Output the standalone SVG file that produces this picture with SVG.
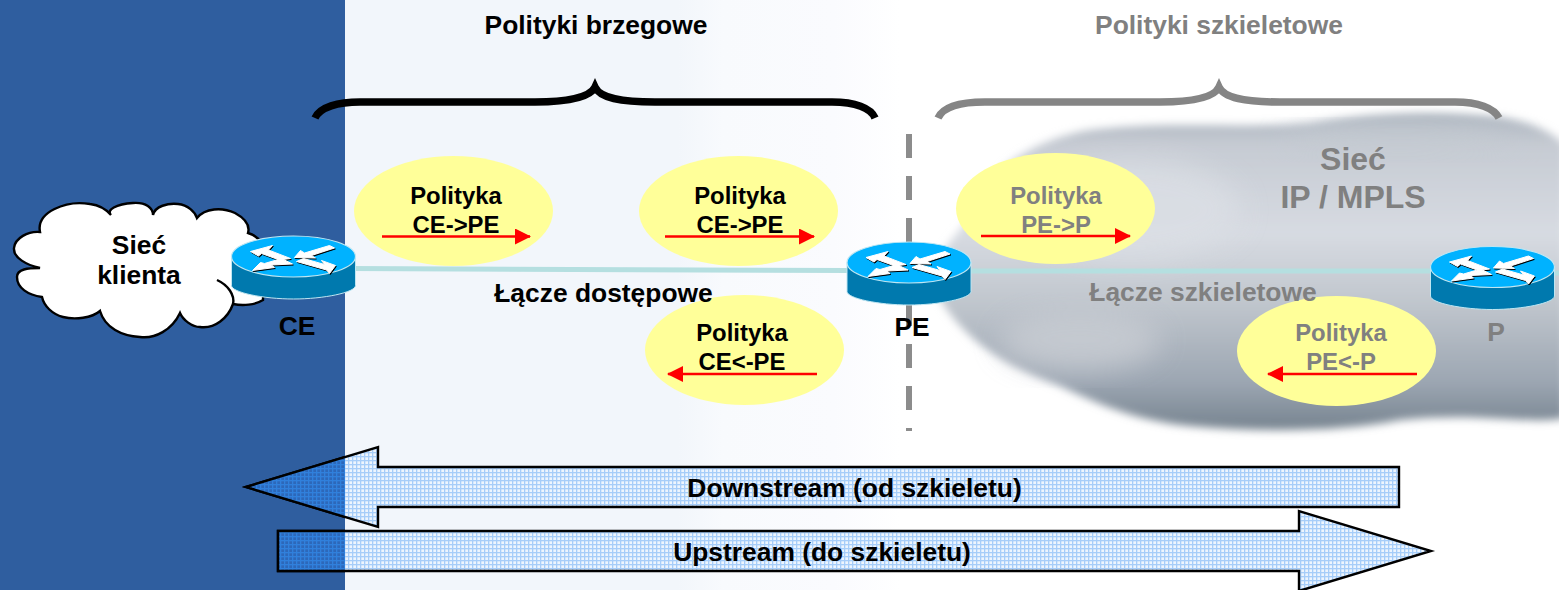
<svg xmlns="http://www.w3.org/2000/svg" width="1559" height="590" viewBox="0 0 1559 590">
<style>
text{font-family:"Liberation Sans",Arial,sans-serif;font-weight:bold;text-anchor:middle;fill:#000}
.g{fill:#808080}
.p{font-size:23.9px}
.l{font-size:26.4px}
.pol{fill:#ffff99}
.red{stroke:#ff0000;stroke-width:2.5;fill:none}
.block{stroke:#000;stroke-width:2.4;fill:url(#dots)}
.blockd{stroke:#000;stroke-width:2.4;fill:url(#dotsd)}
.brace{fill:none;stroke-width:7.5}
.link{stroke:#b5dfe0;stroke-width:5;fill:none}
</style>
<defs>
<linearGradient id="bandg" x1="345" x2="900" y1="0" y2="0" gradientUnits="userSpaceOnUse">
<stop offset="0" stop-color="#f2f6fb"/>
<stop offset=".6" stop-color="#f2f6fb"/>
<stop offset=".68" stop-color="#f8fafd"/>
<stop offset=".88" stop-color="#fafbfe"/>
<stop offset="1" stop-color="#ffffff"/>
</linearGradient>
<pattern id="dots" width="4" height="4" patternUnits="userSpaceOnUse">
<rect width="4" height="4" fill="#edf5fe"/>
<rect width="1.3" height="4" fill="#a6cdf9"/>
<rect width="4" height="1.3" fill="#a6cdf9"/>
</pattern>
<pattern id="dotsd" width="4" height="4" patternUnits="userSpaceOnUse">
<rect width="4" height="4" fill="#2c68ba"/>
<rect width="1.3" height="4" fill="#3080dc"/>
<rect width="4" height="1.3" fill="#3080dc"/>
</pattern>
<clipPath id="leftband"><rect x="0" y="430" width="345" height="160"/></clipPath>
<linearGradient id="cg" x1="0" y1="0" x2="0" y2="1">
<stop offset="0" stop-color="#a9b2bc"/>
<stop offset=".1" stop-color="#c6cbd3"/>
<stop offset=".38" stop-color="#d7dbe2"/>
<stop offset=".6" stop-color="#c0c6cd"/>
<stop offset=".85" stop-color="#9ca6b2"/>
<stop offset="1" stop-color="#76838f"/>
</linearGradient>
<filter id="bl" x="-5%" y="-10%" width="110%" height="120%"><feGaussianBlur stdDeviation="4"/></filter>
<filter id="bl2" x="-20%" y="-30%" width="140%" height="160%"><feGaussianBlur stdDeviation="14"/></filter>
<marker id="ah" markerUnits="userSpaceOnUse" markerWidth="16" markerHeight="16" refX="15" refY="8" orient="auto-start-reverse">
<path d="M0,0 L16,8 L0,16 Z" fill="#ff0000"/>
</marker>
<g id="ra" stroke-width="1" stroke-linejoin="round">
<path d="M-43,-5 -21,-11 -25,-6.500 -3,2 -14,3.500 -32,-3 -35,-0.500Z"/>
<path d="M1,1 7,-6 11,-3.500 36,-11 41,-8.500 18,-1 22,1.500Z"/>
<path d="M-41,14 -33,6 -29,7 -12,2 -1,7.500 -22,8.500 -19,11Z"/>
<path d="M3,5 10,2 31,8 28,4 42,9 36,17 33,13.500Z"/>
</g>
<g id="rt">
<path d="M-62,0 V29 C-62,36 -30,42.500 0,42.500 C30,42.500 62,36 62,29 V0 Z" fill="#0079ae" stroke="#bfe6f2" stroke-width="1"/>
<ellipse rx="62" ry="20.500" fill="#00b2ff" stroke="#bfe6f2" stroke-width="1.200"/>
<use href="#ra" x=".8" y="1" fill="#000" stroke="#000"/>
<use href="#ra" fill="#fff" stroke="#fff"/>
</g>
</defs>

<g id="background">
<rect width="1559" height="590" fill="#fff"/>
<rect x="345" width="555" height="590" fill="url(#bandg)"/>
<rect width="345" height="590" fill="#2f5e9f"/>
</g>

<g id="backbone-cloud">
<path filter="url(#bl)" fill="url(#cg)" d="M932,285 C935,245 965,235 985,190 C1005,155 1060,130 1110,128 C1170,122 1250,128 1310,123 C1370,112 1440,110 1500,117 C1530,122 1550,130 1565,145 V418 C1530,425 1480,412 1400,420 C1340,432 1260,432 1190,426 C1130,420 1090,400 1060,386 C1020,370 965,350 932,285Z"/>
<ellipse cx="1130" cy="210" rx="110" ry="50" fill="#dbdfe5" opacity=".8" filter="url(#bl2)"/>
<ellipse cx="1080" cy="340" rx="80" ry="30" fill="#c8ccd3" opacity=".85" filter="url(#bl2)"/>
<ellipse cx="1400" cy="140" rx="120" ry="14" fill="#c5cbd2" opacity=".8" filter="url(#bl2)"/>
</g>

<g id="connectors">
<path class="link" d="M350,268.500 L850,270.500"/>
<path class="link" d="M968,271 H1433"/>
<path class="link" d="M1552,273 H1559"/>
<path d="M909,134 V431" fill="none" stroke="#8c8c8c" stroke-width="6" stroke-dasharray="24 18"/>
<path class="brace" stroke="#000" d="M315,118 C320,107 338,102 360,102 H535 C565,102 590,98 595,87 C600,98 620,102 655,102 H832 C855,102 871,108 875,118"/>
<path class="brace" stroke="#858585" d="M938,118 C943,107 960,102 985,102 H1160 C1190,102 1214,98 1219,87 C1224,98 1245,102 1280,102 H1455 C1478,102 1494,108 1499,118"/>
</g>

<g id="client-cloud">
<path fill="#fff" stroke="#000" stroke-width="2.400" d="M40,232 C36,212 66,200 90,204 C98,205 106,209 111,215 C106,210 116,204 133,203 C146,202 153,208 153,215 C155,206 168,203 178,204 C188,205 195,212 197,218 C205,208 222,207 235,213 C246,219 250,226 248,233 C260,236 266,248 264,260 L263,300 C255,305 243,306 233,304 C228,318 215,329 200,327 C192,327 183,320 180,313 C172,330 155,339 140,337 C122,336 105,328 100,311 C92,318 75,320 63,317 C52,314 44,306 42,297 C28,295 17,288 17,277 C17,269 28,268 40,268 C27,265 13,258 14,248 C15,238 28,231 40,232Z"/>
<path fill="none" stroke="#000" stroke-width="2.400" d="M217,280 C228,285 235,295 233,304"/>
<text class="l" x="139" y="254">Sieć</text>
<text class="l" x="139" y="284">klienta</text>
</g>

<g id="policy-ce-pe-1">
<ellipse class="pol" cx="453.500" cy="211" rx="99.500" ry="55"/>
<text class="p" x="456" y="204">Polityka</text>
<text class="p" x="456" y="233">CE-&gt;PE</text>
<path class="red" d="M382,236.500 H530" marker-end="url(#ah)"/>
</g>
<g id="policy-ce-pe-2">
<ellipse class="pol" cx="738.500" cy="211" rx="99.500" ry="55"/>
<text class="p" x="740" y="204">Polityka</text>
<text class="p" x="740" y="233">CE-&gt;PE</text>
<path class="red" d="M665,236.500 H814" marker-end="url(#ah)"/>
</g>
<g id="policy-ce-pe-3">
<ellipse class="pol" cx="744.500" cy="350" rx="99.500" ry="55"/>
<text class="p" x="742" y="341">Polityka</text>
<text class="p" x="742" y="370">CE&lt;-PE</text>
<path class="red" d="M817,374 H668" marker-end="url(#ah)"/>
</g>
<g id="policy-pe-p-1">
<ellipse class="pol" cx="1055.500" cy="208.500" rx="99.500" ry="55.500"/>
<text class="p g" x="1056" y="204">Polityka</text>
<text class="p g" x="1056" y="233">PE-&gt;P</text>
<path class="red" d="M981,236 H1130" marker-end="url(#ah)"/>
</g>
<g id="policy-pe-p-2">
<ellipse class="pol" cx="1336.500" cy="351" rx="99.500" ry="55"/>
<text class="p g" x="1341" y="341">Polityka</text>
<text class="p g" x="1341" y="370">PE&lt;-P</text>
<path class="red" d="M1417,374 H1268" marker-end="url(#ah)"/>
</g>

<g id="router-ce"><use href="#rt" x="293.500" y="256.500"/><text class="l" x="297" y="335">CE</text></g>
<g id="router-pe"><use href="#rt" x="909" y="262.500"/><text class="l" x="912" y="336">PE</text></g>
<g id="router-p"><use href="#rt" x="1492.500" y="267"/><text class="l g" x="1496" y="341">P</text></g>

<g id="labels">
<text class="l" x="596" y="33.500">Polityki brzegowe</text>
<text class="l g" x="1219" y="33.500">Polityki szkieletowe</text>
<text class="g" font-size="32" x="1353" y="170">Sieć</text>
<text class="g" font-size="32" x="1353" y="208">IP / MPLS</text>
<text class="l" x="603.500" y="302">Łącze dostępowe</text>
<text class="l g" x="1203" y="301">Łącze szkieletowe</text>
</g>

<g id="downstream">
<path class="block" d="M246,487 L378,447 V467 H1399 V507 H378 V527Z"/>
<path class="blockd" clip-path="url(#leftband)" d="M246,487 L378,447 V467 H1399 V507 H378 V527Z"/>
<text class="l" x="854.500" y="497">Downstream (od szkieletu)</text>
</g>
<g id="upstream">
<path class="block" d="M278,531 H1299 V511 L1431,551 L1299,591 V571 H278Z"/>
<path class="blockd" clip-path="url(#leftband)" d="M278,531 H1299 V511 L1431,551 L1299,591 V571 H278Z"/>
<text class="l" x="822" y="561">Upstream (do szkieletu)</text>
</g>
</svg>
